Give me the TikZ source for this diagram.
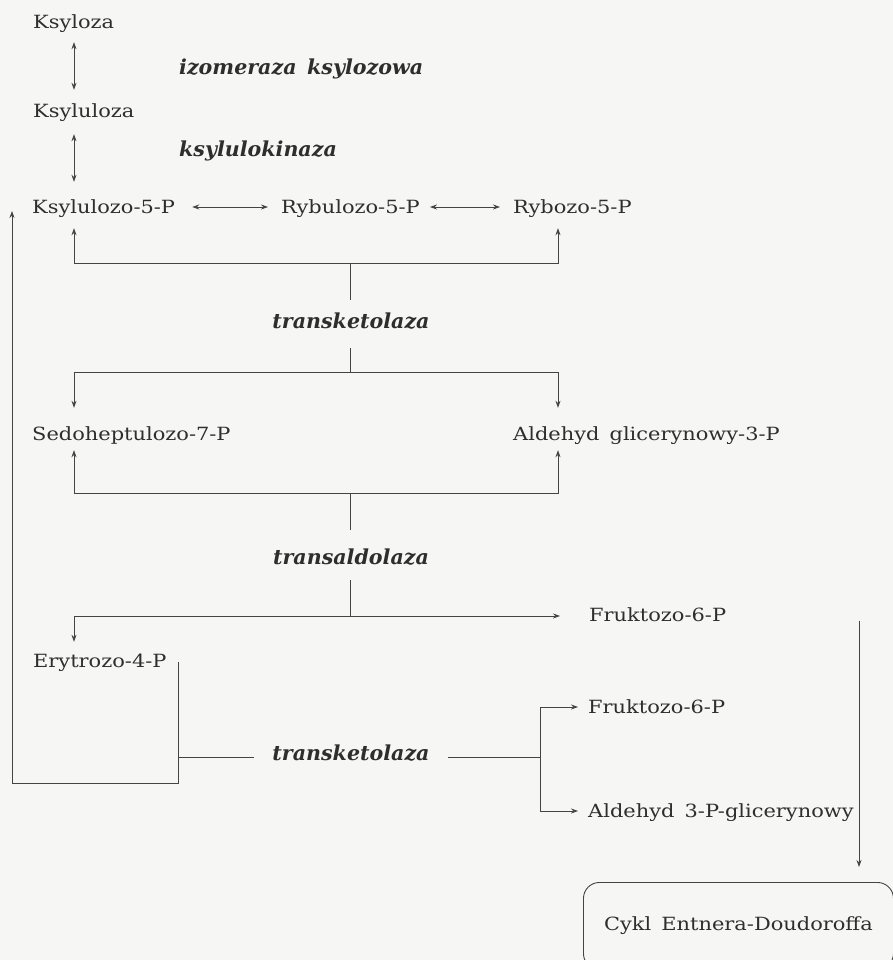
\documentclass[tikz,border=0pt]{standalone}
\usepackage{fontspec}
\newfontfamily\namefont{DejaVu Serif}
\newfontfamily\enzfont{DejaVu Serif}
\usetikzlibrary{arrows.meta,calc}
\definecolor{ink}{HTML}{2E2E2E}
\definecolor{lineink}{HTML}{444444}
\definecolor{paper}{HTML}{F6F6F4}
\newcommand{\nmtxt}[1]{\scalebox{1.15}[1]{#1}}
\tikzset{
  nm/.style={inner sep=0pt, anchor=base west, text=ink, text height=14pt, text depth=5pt,
             font=\namefont\fontsize{18.2}{22}\selectfont},
  enz/.style={inner sep=0pt, anchor=base, text=ink, text height=15pt, text depth=5pt,
             font=\enzfont\fontsize{20.6}{24}\selectfont\bfseries\itshape},
  ln/.style={draw=lineink, line width=0.85pt},
  arr/.style={ln, -{Stealth[length=7pt,width=5pt]}},
  dbl/.style={ln, {Stealth[length=7pt,width=5pt]}-{Stealth[length=7pt,width=5pt]}},
}
\begin{document}
\begin{tikzpicture}[x=1pt,y=-1pt]
\fill[paper] (0,0) rectangle (893,960);
\useasboundingbox (0,0) rectangle (893,960);
\clip (0,0) rectangle (893,960);
% columns
\coordinate (cL) at (74,0);
\coordinate (cR) at (558,0);
\coordinate (cE) at (178,0);
\coordinate (cB) at (12,0);
\coordinate (cT) at (540,0);
\coordinate (cD) at (859,0);
% nodes
\node[nm] (ksyloza) at (33,29) {\nmtxt{Ksyloza}};
\node[nm] (ksyluloza) at (33,118) {\nmtxt{Ksyluloza}};
\node[nm] (k5p) at (32,213) {\nmtxt{Ksylulozo-5-P}};
\node[nm] (ru5p) at (281,213) {\nmtxt{Rybulozo-5-P}};
\node[nm] (r5p) at (513,213) {\nmtxt{Rybozo-5-P}};
\node[nm] (sh7p) at (32,440) {\nmtxt{Sedoheptulozo-7-P}};
\node[nm] (ag3p) at (513,440) {\nmtxt{Aldehyd\, glicerynowy-3-P}};
\node[nm] (f6p1) at (589,621) {\nmtxt{Fruktozo-6-P}};
\node[nm] (ery) at (33,667) {\nmtxt{Erytrozo-4-P}};
\node[nm] (f6p2) at (588,713) {\nmtxt{Fruktozo-6-P}};
\node[nm] (a3p) at (588,817) {\nmtxt{Aldehyd\, 3-P-glicerynowy}};
\node[enz, anchor=base west] (izo) at (179,75) {izomeraza\, ksylozowa};
\node[enz, anchor=base west] (kin) at (179,157) {ksylulokinaza};
\node[enz] (tk1) at (351,328) {transketolaza};
\node[enz] (ta) at (351,564) {transaldolaza};
\node[enz] (tk2) at (351,760) {transketolaza};
\node[draw=lineink, line width=0.9pt, rounded corners=16pt, anchor=north west,
      minimum width=310pt, minimum height=87pt, inner sep=0pt, text=ink,
      text height=14pt, text depth=5pt,
      font=\namefont\fontsize{18.2}{22}\selectfont] (ed) at (583,882)
      {\nmtxt{Cykl\, Entnera-Doudoroffa}};
% upper chain
\draw[dbl] ([yshift=-8pt]ksyloza.south -| cL) -- ([yshift=14pt]ksyluloza.north -| cL);
\draw[dbl] ([yshift=-11pt]ksyluloza.south -| cL) -- ([yshift=17pt]k5p.north -| cL);
\draw[dbl] ([xshift=17pt,yshift=1.5pt]k5p.east) -- ([xshift=-13pt,yshift=1.5pt]ru5p.west);
\draw[dbl] ([xshift=10pt,yshift=1.5pt]ru5p.east) -- ([xshift=-13pt,yshift=1.5pt]r5p.west);
% transketolaza 1
\coordinate (j1) at (350,263);
\coordinate (j2) at (350,372);
\draw[arr] (j1) -| ([yshift=-10pt]k5p.south -| cL);
\draw[arr] (j1) -| ([yshift=-10pt]r5p.south -| cR);
\draw[ln] (j1) -- ([yshift=13pt]tk1.north -| j1);
\draw[ln] ([yshift=-15pt]tk1.south -| j2) -- (j2);
\draw[arr] (j2) -| ([yshift=18pt]sh7p.north -| cL);
\draw[arr] (j2) -| ([yshift=18pt]ag3p.north -| cR);
% transaldolaza
\coordinate (j3) at (350,493);
\coordinate (j4) at (350,616);
\draw[arr] (j3) -| ([yshift=-5pt]sh7p.south -| cL);
\draw[arr] (j3) -| ([yshift=-5pt]ag3p.south -| cR);
\draw[ln] (j3) -- ([yshift=19pt]ta.north -| j3);
\draw[ln] ([yshift=-11pt]ta.south -| j4) -- (j4);
\draw[arr] (j4) -| ([yshift=11pt]ery.north -| cL);
\draw[arr] (j4) -- ([xshift=-29pt]f6p1.west |- j4);
% erytrozo loop
\coordinate (e1) at (178,662);
\coordinate (e2) at (178,783);
\coordinate (e3) at (12,783);
\draw[arr] (e1) -- (e2) -- (e3) -- ([yshift=2pt]k5p.base -| cB);
% transketolaza 2
\draw[ln] ([yshift=-2pt]tk2.west -| cE) -- ([xshift=-18pt,yshift=-2pt]tk2.west);
\draw[ln] ([xshift=18pt,yshift=-2pt]tk2.east) -- ([yshift=-2pt]tk2.east -| cT);
\draw[ln] ([yshift=1.5pt]f6p2.west -| cT) -- ([yshift=1.5pt]a3p.west -| cT);
\draw[arr] ([yshift=1.5pt]f6p2.west -| cT) -- ([xshift=-10pt,yshift=1.5pt]f6p2.west);
\draw[arr] ([yshift=1.5pt]a3p.west -| cT) -- ([xshift=-10pt,yshift=1.5pt]a3p.west);
% to Entner-Doudoroff
\draw[arr] ([yshift=-4pt]f6p1.east -| cD) -- ([yshift=15pt]ed.north -| cD);
\end{tikzpicture}
\end{document}
